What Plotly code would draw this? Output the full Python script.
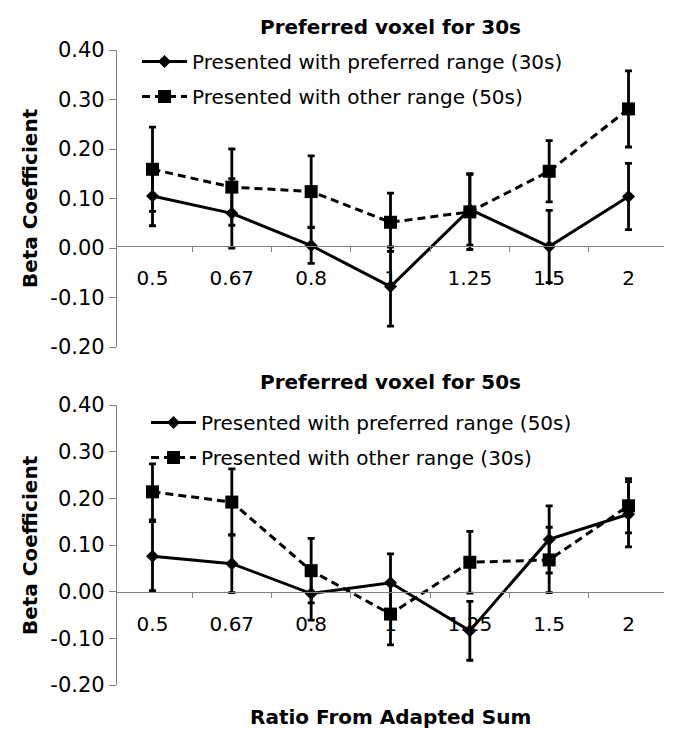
import plotly.graph_objects as go

categories = ["0.5", "0.67", "0.8", "1", "1.25", "1.5", "2"]
y_ticks = [-0.2, -0.1, 0.0, 0.1, 0.2, 0.3, 0.4]
y_ticktext = ["-0.20", "-0.10", "0.00", "0.10", "0.20", "0.30", "0.40"]

# Top panel: preferred voxel for 30s
top_pref = [0.105, 0.070, 0.005, -0.078, 0.078, 0.003, 0.104]
top_pref_err = [0.060, 0.070, 0.036, 0.080, 0.072, 0.073, 0.067]
top_other = [0.159, 0.123, 0.114, 0.052, 0.073, 0.155, 0.281]
top_other_err = [0.085, 0.077, 0.072, 0.059, 0.076, 0.062, 0.077]

# Bottom panel: preferred voxel for 50s
bot_pref = [0.076, 0.060, -0.004, 0.019, -0.084, 0.112, 0.166]
bot_pref_err = [0.074, 0.062, 0.057, 0.062, 0.063, 0.072, 0.070]
bot_other = [0.214, 0.192, 0.045, -0.048, 0.063, 0.068, 0.184]
bot_other_err = [0.060, 0.071, 0.069, 0.066, 0.066, 0.070, 0.058]

FONT = "DejaVu Sans"
W, H = 673, 729
L, R, T, B = 117, 9, 50, 44
plot_h = H - T - B
plot_w = W - L - R

def py(p):
    return (H - B - p) / plot_h

def px(p):
    return (p - L) / plot_w

fig = go.Figure()

def add_pair(pref, perr, other, oerr, xa, ya, leg, pref_name, other_name):
    fig.add_trace(go.Scatter(
        x=categories, y=pref, xaxis=xa, yaxis=ya, name=pref_name,
        mode="lines+markers", legend=leg, legendgroup=leg + "a",
        line=dict(color="black", width=3),
        marker=dict(symbol="diamond", size=10, color="black"),
        error_y=dict(type="data", array=perr, color="black", thickness=2.8, width=3.5),
    ))
    fig.add_trace(go.Scatter(
        x=categories, y=other, xaxis=xa, yaxis=ya, name=other_name,
        mode="lines+markers", legend=leg, legendgroup=leg + "b",
        line=dict(color="black", width=3, dash="8px,5px"),
        marker=dict(symbol="square", size=13, color="black"),
        error_y=dict(type="data", array=oerr, color="black", thickness=2.8, width=3.5),
    ))

add_pair(top_pref, top_pref_err, top_other, top_other_err, "x", "y", "legend",
         "Presented with preferred range (30s)", "Presented with other range (50s)")
add_pair(bot_pref, bot_pref_err, bot_other, bot_other_err, "x2", "y2", "legend2",
         "Presented with preferred range (50s)", "Presented with other range (30s)")

top_dom = [py(347), 1.0]
bot_dom = [0.0, py(405)]

xcommon = dict(
    type="category", tickson="boundaries", ticks="outside", ticklen=5,
    tickcolor="#808080", showline=True, linecolor="#808080", linewidth=1.2,
    showgrid=False, zeroline=False, anchor="free",
    tickfont=dict(family=FONT, size=20, color="black"), ticklabelstandoff=14,
)
ycommon = dict(
    range=[-0.2, 0.4], tickvals=y_ticks, ticktext=y_ticktext, ticks="outside", ticklen=7,
    tickcolor="#808080", showline=True, linecolor="#808080", linewidth=1.2,
    showgrid=False, zeroline=False,
    tickfont=dict(family=FONT, size=21, color="black"),
)

fig.update_layout(
    width=W, height=H,
    margin=dict(l=L, r=R, t=T, b=B),
    paper_bgcolor="white", plot_bgcolor="white",
    font=dict(family=FONT, size=20, color="black"),
    xaxis=dict(**xcommon, domain=[0, 1], position=py(246)),
    yaxis=dict(**ycommon, domain=top_dom, anchor="x"),
    xaxis2=dict(**xcommon, domain=[0, 1], position=py(592)),
    yaxis2=dict(**ycommon, domain=bot_dom, anchor="x2"),
    legend=dict(x=px(137), y=py(42), xanchor="left", yanchor="top",
                bgcolor="rgba(0,0,0,0)", tracegroupgap=6, itemwidth=45,
                font=dict(family=FONT, size=20, color="black")),
    legend2=dict(x=px(146), y=py(403), xanchor="left", yanchor="top",
                 bgcolor="rgba(0,0,0,0)", tracegroupgap=6, itemwidth=45,
                 font=dict(family=FONT, size=20, color="black")),
    showlegend=True,
    annotations=[
        dict(text="<b>Preferred voxel for 30s</b>", x=0.5, y=py(27), xref="paper", yref="paper",
             showarrow=False, font=dict(family=FONT, size=20), xanchor="center", yanchor="middle"),
        dict(text="<b>Preferred voxel for 50s</b>", x=0.5, y=py(382), xref="paper", yref="paper",
             showarrow=False, font=dict(family=FONT, size=20), xanchor="center", yanchor="middle"),
        dict(text="<b>Ratio From Adapted Sum</b>", x=0.5, y=py(717), xref="paper", yref="paper",
             showarrow=False, font=dict(family=FONT, size=20), xanchor="center", yanchor="middle"),
        dict(text="<b>Beta Coefficient</b>", x=px(30), y=py(198), xref="paper", yref="paper",
             showarrow=False, textangle=-90, font=dict(family=FONT, size=20),
             xanchor="center", yanchor="middle"),
        dict(text="<b>Beta Coefficient</b>", x=px(30), y=py(545), xref="paper", yref="paper",
             showarrow=False, textangle=-90, font=dict(family=FONT, size=20),
             xanchor="center", yanchor="middle"),
    ],
)

fig.write_html("out.html")
